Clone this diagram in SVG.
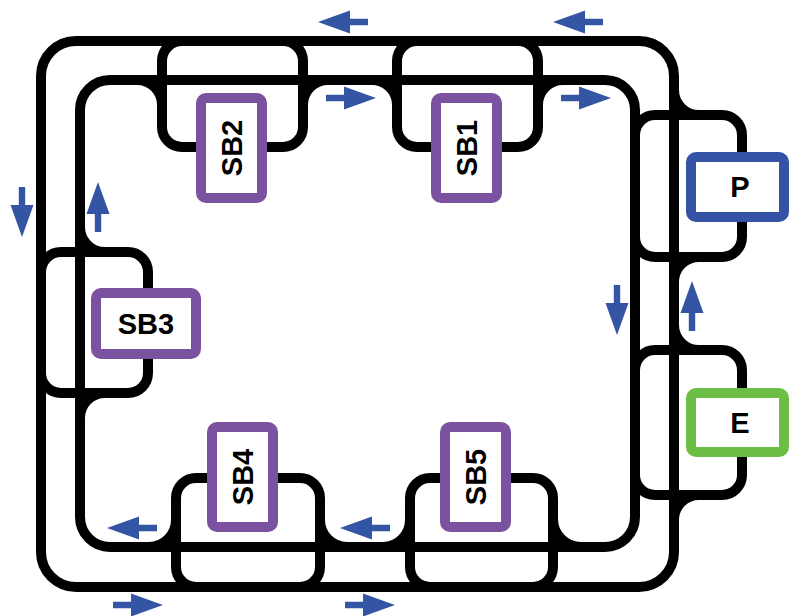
<svg xmlns="http://www.w3.org/2000/svg" width="789" height="616" viewBox="0 0 789 616">
  <style>
    .track { fill: none; stroke: #000; stroke-width: 10; }
    .sb { fill: #fff; stroke: #7b52a0; stroke-width: 10; }
    .pbox { fill: #fff; stroke: #3553a6; stroke-width: 10; }
    .ebox { fill: #fff; stroke: #6cbe45; stroke-width: 10; }
    .label { font-family: "Liberation Sans", Arial, sans-serif; font-weight: bold; font-size: 29px; fill: #000; text-anchor: middle; }
    .flow { fill: #3454a4; }
  </style>
  <defs>
    <!-- flow arrow pointing left, tip at origin -->
    <path id="arrow" d="M0 0 L32 -11.5 L32 -3.2 L50 -3.2 L50 3.2 L32 3.2 L32 11.5 Z"/>
  </defs>

  <!-- loops, sidings and junction fillets -->
  <g id="connectors">
    <path class="track" d="M76 41 H639 A35 35 0 0 1 674 76 V552 A35 35 0 0 1 639 587 H76 A35 35 0 0 1 41 552 V76 A35 35 0 0 1 76 41 Z"/>
    <rect class="track" x="80" y="80" width="555" height="467" rx="30"/>
    <rect class="track" x="162" y="41" width="141" height="106" rx="20"/>
    <rect class="track" x="397" y="41" width="141" height="106" rx="20"/>
    <rect class="track" x="41" y="252" width="107" height="141" rx="20"/>
    <rect class="track" x="176" y="478" width="144" height="109" rx="20"/>
    <rect class="track" x="410" y="478" width="143" height="109" rx="20"/>
    <rect class="track" x="635" y="115" width="107" height="142" rx="20"/>
    <rect class="track" x="635" y="350" width="107" height="145" rx="20"/>
    <!-- top junctions -->
    <path class="track" d="M137 80 A25 25 0 0 1 162 105"/>
    <path class="track" d="M303 105 A25 25 0 0 1 328 80"/>
    <path class="track" d="M372 80 A25 25 0 0 1 397 105"/>
    <path class="track" d="M538 105 A25 25 0 0 1 563 80"/>
    <!-- right junctions -->
    <path class="track" d="M674 90 A25 25 0 0 0 699 115"/>
    <path class="track" d="M699 257 A25 25 0 0 0 674 282"/>
    <path class="track" d="M674 325 A25 25 0 0 0 699 350"/>
    <path class="track" d="M699 495 A25 25 0 0 0 674 520"/>
    <!-- left junctions -->
    <path class="track" d="M80 227 A25 25 0 0 0 105 252"/>
    <path class="track" d="M105 393 A25 25 0 0 0 80 418"/>
    <!-- bottom junctions -->
    <path class="track" d="M149 547 A27 27 0 0 0 176 520"/>
    <path class="track" d="M320 520 A27 27 0 0 0 347 547"/>
    <path class="track" d="M383 547 A27 27 0 0 0 410 520"/>
    <path class="track" d="M553 519 A28 28 0 0 0 581 547"/>
  </g>

  <g id="SB2">
    <rect class="sb" x="201" y="98" width="61" height="100" rx="5"/>
    <text class="label" transform="translate(231.5 148) rotate(-90)" x="0" y="10.5">SB2</text>
  </g>
  <g id="SB1">
    <rect class="sb" x="436" y="98" width="61" height="100" rx="5"/>
    <text class="label" transform="translate(466.5 148) rotate(-90)" x="0" y="10.5">SB1</text>
  </g>
  <g id="SB3">
    <rect class="sb" x="96" y="293" width="100" height="61" rx="5"/>
    <text class="label" x="146" y="334">SB3</text>
  </g>
  <g id="SB4">
    <rect class="sb" x="212" y="427" width="61" height="100" rx="5"/>
    <text class="label" transform="translate(242.5 477) rotate(-90)" x="0" y="10.5">SB4</text>
  </g>
  <g id="SB5">
    <rect class="sb" x="445" y="427" width="61" height="100" rx="5"/>
    <text class="label" transform="translate(475.5 477) rotate(-90)" x="0" y="10.5">SB5</text>
  </g>
  <g id="P">
    <rect class="pbox" x="691" y="157" width="93" height="60" rx="5"/>
    <text class="label" x="740" y="197">P</text>
  </g>
  <g id="E">
    <rect class="ebox" x="691" y="393" width="93" height="59" rx="5"/>
    <text class="label" x="740" y="433">E</text>
  </g>

  <!-- direction of travel -->
  <g id="flow-arrows" class="flow">
    <use href="#arrow" transform="translate(318 22)"/>
    <use href="#arrow" transform="translate(553 22)"/>
    <use href="#arrow" transform="translate(376 98) rotate(180)"/>
    <use href="#arrow" transform="translate(611 98) rotate(180)"/>
    <use href="#arrow" transform="translate(22 237) rotate(-90)"/>
    <use href="#arrow" transform="translate(98 182) rotate(90)"/>
    <use href="#arrow" transform="translate(617 335) rotate(-90)"/>
    <use href="#arrow" transform="translate(692 281) rotate(90)"/>
    <use href="#arrow" transform="translate(107 528)"/>
    <use href="#arrow" transform="translate(340 528)"/>
    <use href="#arrow" transform="translate(163 605) rotate(180)"/>
    <use href="#arrow" transform="translate(395 605) rotate(180)"/>
  </g>
</svg>
